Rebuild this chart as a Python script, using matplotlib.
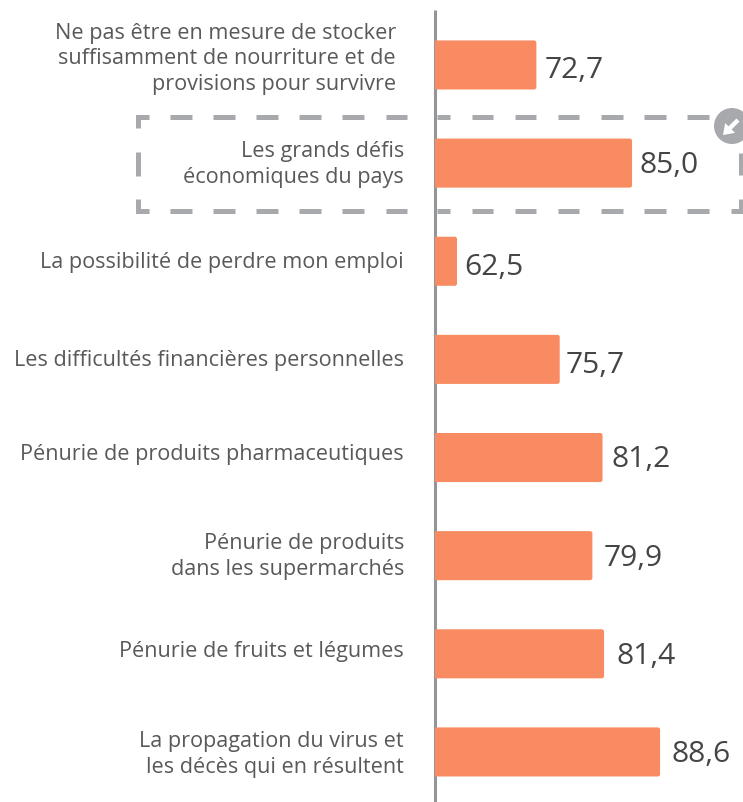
import matplotlib
matplotlib.use("Agg")
import matplotlib.pyplot as plt
from matplotlib.patches import FancyBboxPatch, Circle, FancyArrow
from matplotlib.lines import Line2D

categories = [
    "Ne pas être en mesure de stocker\nsuffisamment de nourriture et de\nprovisions pour survivre",
    "Les grands défis\néconomiques du pays",
    "La possibilité de perdre mon emploi",
    "Les difficultés financières personnelles",
    "Pénurie de produits pharmaceutiques",
    "Pénurie de produits\ndans les supermarchés",
    "Pénurie de fruits et légumes",
    "La propagation du virus et\nles décès qui en résultent",
]
values = [72.7, 85.0, 62.5, 75.7, 81.2, 79.9, 81.4, 88.6]
value_labels = ["72,7", "85,0", "62,5", "75,7", "81,2", "79,9", "81,4", "88,6"]

# label placement (pixels): right edge and vertical offset from bar centre
label_right = [396, 404, 404, 404, 404, 404, 404, 404]
label_dy = [-6, 1, 1, 1, -3, 1, -2, 3]
# value label placement (pixels from bar end)
value_dx = [8.5, 7.5, 7.5, 6, 9, 11.5, 12.5, 11.5]
value_dy = [5, 2, 6, 5, 1.5, 2, 1.5, 1.5]

W, H = 743, 802
FONT = "Open Sans"
BAR = "#F88B62"
GREY = "#A7A9AC"

fig = plt.figure(figsize=(W / 100, H / 100), dpi=100, facecolor="white")
ax = fig.add_axes([435 / W, 0, 308 / W, 792 / H])
x0 = 59.67
px_x = 7.78
px_y = 98.1
ax.set_xlim(x0, x0 + 308 / px_x)
ax.set_ylim(7.51, -0.56)
ax.axis("off")

aspect = px_x / px_y
for i, v in enumerate(values):
    r = 0.3
    pad_left = 1.0
    p = FancyBboxPatch(
        (x0 - pad_left, i - 0.25), v - x0 + pad_left, 0.5,
        boxstyle=f"round,pad=0,rounding_size={r}",
        mutation_aspect=aspect, fc=BAR, ec="none", zorder=3, clip_on=True,
    )
    ax.add_patch(p)
    ax.annotate(value_labels[i], (v, i), xytext=(value_dx[i] * 0.72, -0.5 - value_dy[i] * 0.72),
                textcoords="offset points",
                ha="left", va="center", fontsize=21.6, color="#454545",
                family=FONT, zorder=5, annotation_clip=False)
    fig.text(label_right[i] / W, 1 - (65 + px_y * i + label_dy[i]) / H, categories[i],
             ha="right", va="center", fontsize=15.6, color="#58595B", family=FONT,
             linespacing=1.31, zorder=5)

# overlay in pixel coordinates for the axis rule and the highlight frame
ov = fig.add_axes([0, 0, 1, 1], zorder=-1)
ov.set_xlim(0, W)
ov.set_ylim(H, 0)
ov.axis("off")
ov.patch.set_alpha(0)

ov.add_line(Line2D([434.5, 434.5], [10, 802], color="#939598", lw=2.2, solid_capstyle="butt"))

lw = 5 * 0.72
def seg(xs, ys):
    ov.add_line(Line2D(xs, ys, color=GREY, lw=lw, solid_capstyle="butt", solid_joinstyle="miter"))

top, bot, left, right = 116.5, 211, 137.5, 741
seg([149, left, left], [top, top, 128])
seg([149, left, left], [bot, bot, 199])
seg([left, left], [152, 176])
seg([right, right], [153, 175])
seg([731, right, right], [bot, bot, 199])
for y in (top, bot):
    for k in range(13):
        a = 170 + 43.1 * k
        b = a + 21.5
        if a < 434 < b:
            a = 437
        seg([a, b], [y, y])

ov2 = fig.add_axes([0, 0, 1, 1], zorder=6)
ov2.set_xlim(0, W)
ov2.set_ylim(H, 0)
ov2.axis("off")
ov2.patch.set_alpha(0)
ov2.add_patch(Circle((732, 126), 18, fc=GREY, ec="none"))
ov2.add_patch(FancyArrow(738, 120, -15, 15, width=4.4, head_width=14, head_length=10,
                         length_includes_head=True, fc="white", ec="none"))

fig.savefig("out.png", dpi=100, facecolor="white")
